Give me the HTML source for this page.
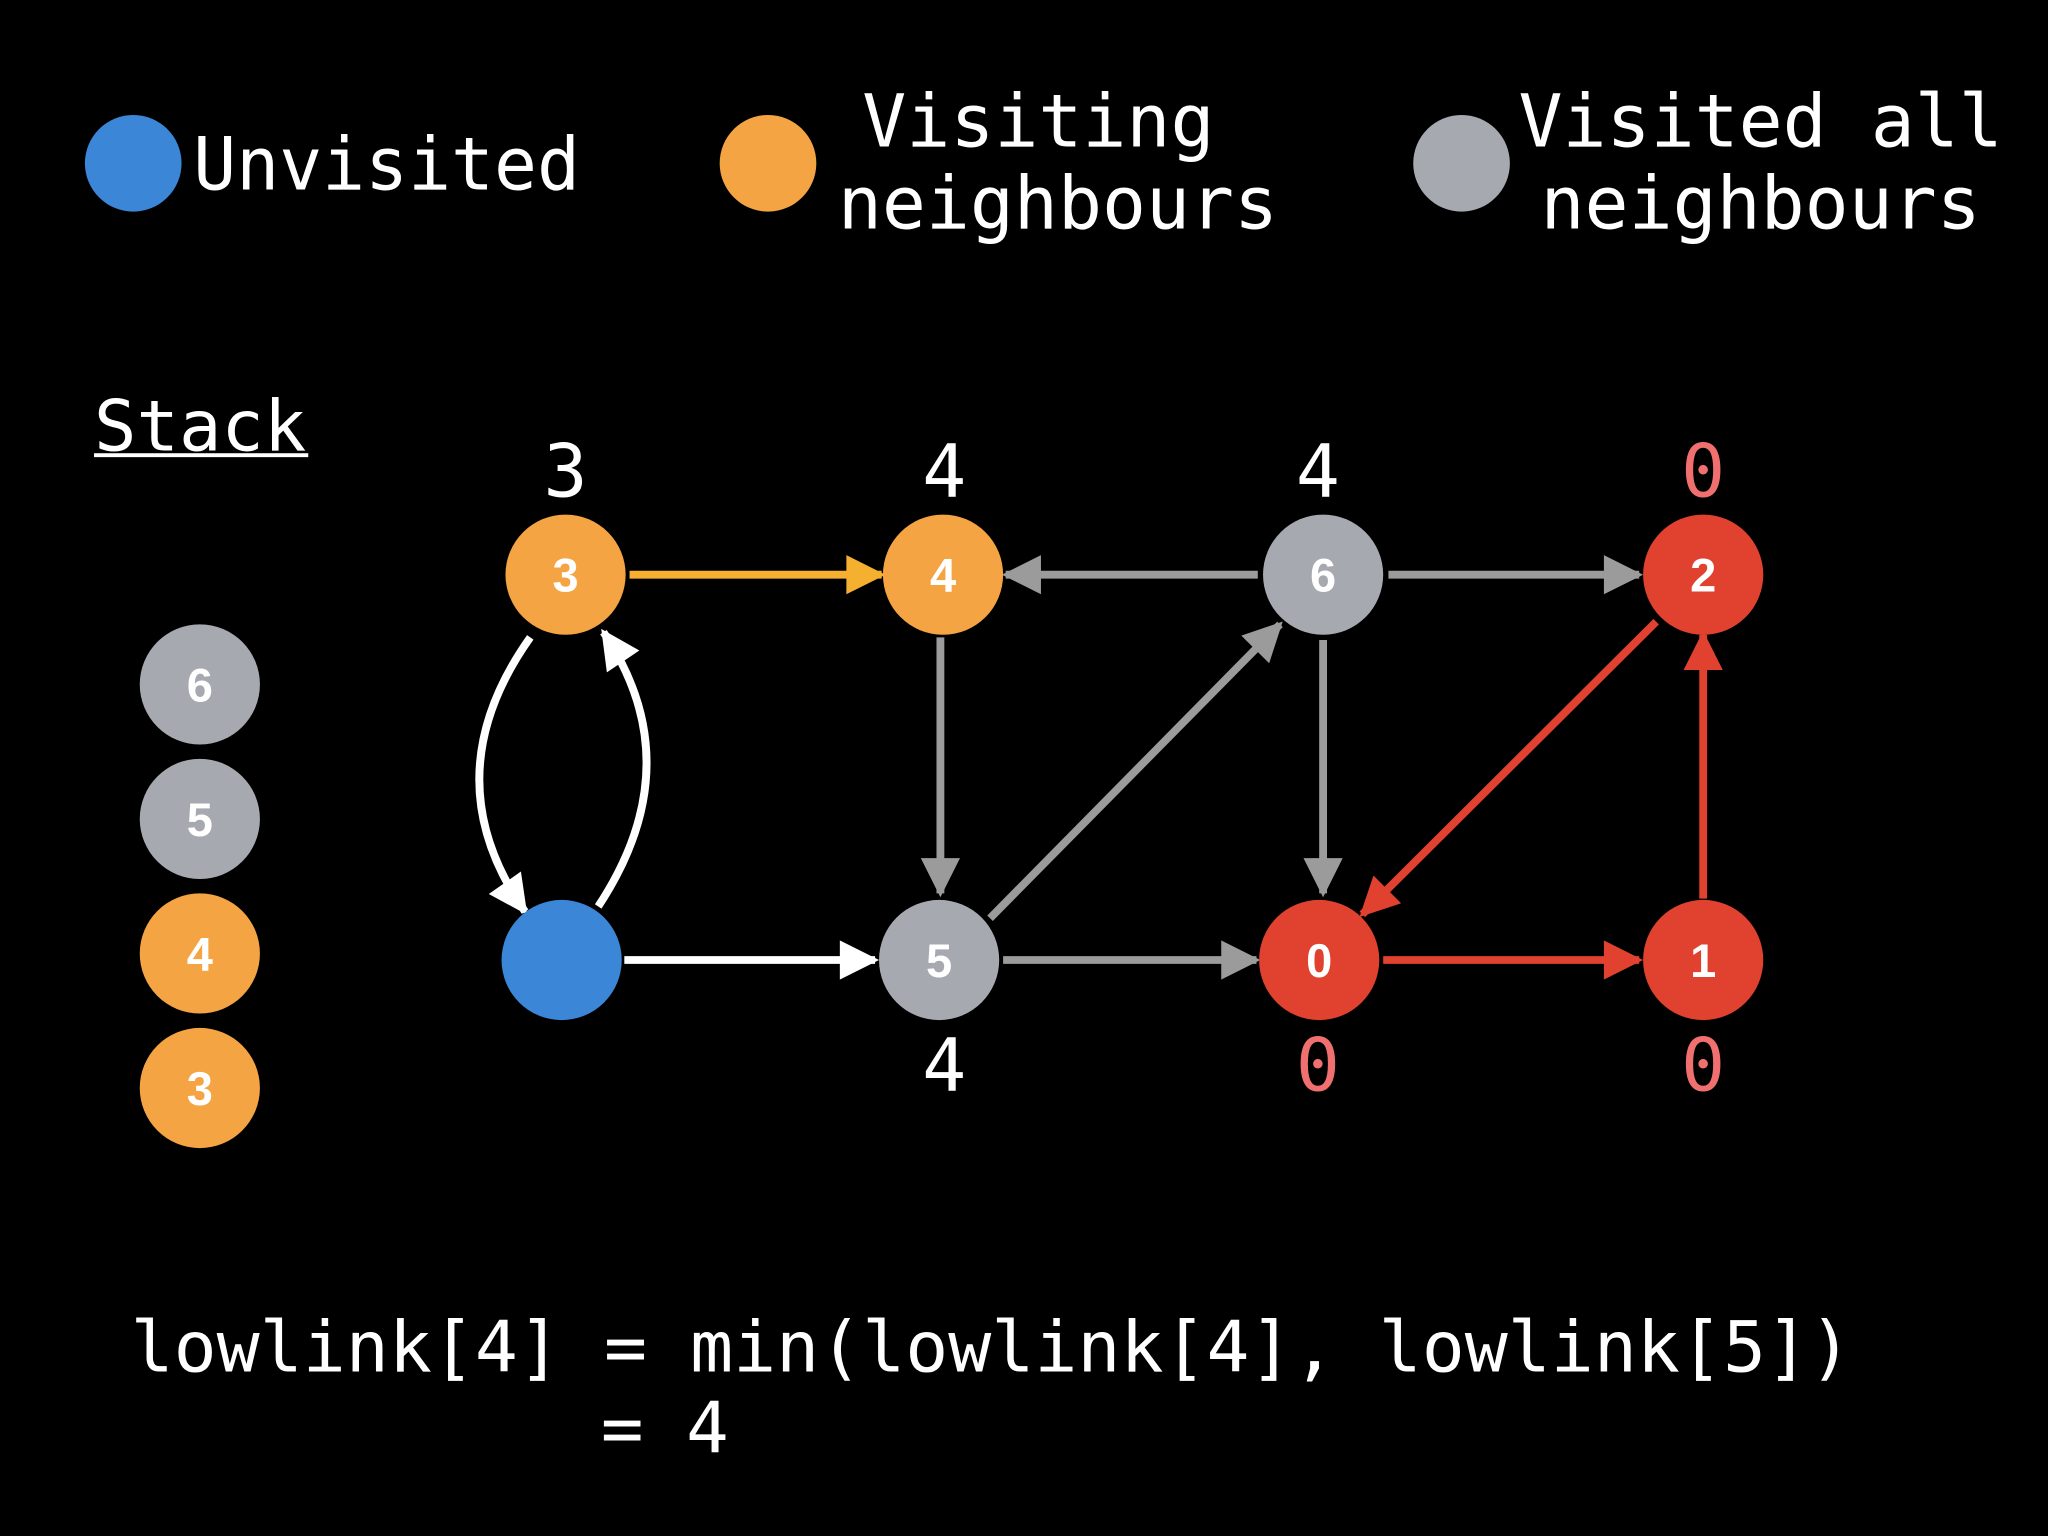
<!DOCTYPE html>
<html><head><meta charset="utf-8"><style>
html,body{margin:0;padding:0;background:#000;}
svg{display:block;}
.m{font-family:"DejaVu Sans Mono","Liberation Mono",monospace;fill:#fff;}
.n{font-family:"Liberation Sans",sans-serif;font-weight:bold;fill:#fff;font-size:36px;text-anchor:middle;}
</style></head><body>
<svg width="2048" height="1536" viewBox="0 0 1568 1176" xmlns="http://www.w3.org/2000/svg">
<defs>
<marker id="ag" viewBox="0 0 10 10" refX="9" refY="5" markerWidth="32" markerHeight="30" markerUnits="userSpaceOnUse" orient="auto"><path d="M0,0L10,5L0,10z" fill="#9b9b9b"/></marker>
<marker id="ao" viewBox="0 0 10 10" refX="9" refY="5" markerWidth="32" markerHeight="30" markerUnits="userSpaceOnUse" orient="auto"><path d="M0,0L10,5L0,10z" fill="#F5B030"/></marker>
<marker id="ar" viewBox="0 0 10 10" refX="9" refY="5" markerWidth="32" markerHeight="30" markerUnits="userSpaceOnUse" orient="auto"><path d="M0,0L10,5L0,10z" fill="#E0422F"/></marker>
<marker id="aw" viewBox="0 0 10 10" refX="9" refY="5" markerWidth="32" markerHeight="30" markerUnits="userSpaceOnUse" orient="auto"><path d="M0,0L10,5L0,10z" fill="#fff"/></marker>
</defs>
<rect width="1568" height="1176" fill="#000"/>
<circle cx="102" cy="125" r="37" fill="#3B86D6"/>
<text class="m" x="148" y="145" font-size="56" textLength="296" lengthAdjust="spacingAndGlyphs">Unvisited</text>
<circle cx="588" cy="125" r="37" fill="#F5A443"/>
<text class="m" x="795" y="112" font-size="56" text-anchor="middle">Visiting</text>
<text class="m" x="810" y="175" font-size="56" text-anchor="middle">neighbours</text>
<circle cx="1119" cy="125" r="37" fill="#A6A9B0"/>
<text class="m" x="1348" y="112" font-size="56" text-anchor="middle">Visited all</text>
<text class="m" x="1348" y="175" font-size="56" text-anchor="middle">neighbours</text>
<text class="m" x="72" y="345" font-size="54">Stack</text>
<rect x="72" y="347" width="164" height="3" fill="#fff"/>
<circle cx="153" cy="524" r="46" fill="#A6A9B0"/><text class="n" x="153" y="537">6</text>
<circle cx="153" cy="627" r="46" fill="#A6A9B0"/><text class="n" x="153" y="640">5</text>
<circle cx="153" cy="730" r="46" fill="#F5A443"/><text class="n" x="153" y="743">4</text>
<circle cx="153" cy="833" r="46" fill="#F5A443"/><text class="n" x="153" y="846">3</text>
<g stroke-width="6" fill="none">
<line x1="482" y1="440" x2="675" y2="440" stroke="#F5B030" marker-end="url(#ao)"/>
<line x1="963" y1="440" x2="770" y2="440" stroke="#9b9b9b" marker-end="url(#ag)"/>
<line x1="1063" y1="440" x2="1255" y2="440" stroke="#9b9b9b" marker-end="url(#ag)"/>
<line x1="720" y1="488" x2="720" y2="684" stroke="#9b9b9b" marker-end="url(#ag)"/>
<line x1="758" y1="703" x2="980" y2="478" stroke="#9b9b9b" marker-end="url(#ag)"/>
<line x1="1013" y1="490" x2="1013" y2="684" stroke="#9b9b9b" marker-end="url(#ag)"/>
<line x1="768" y1="735" x2="962" y2="735" stroke="#9b9b9b" marker-end="url(#ag)"/>
<line x1="1268" y1="476" x2="1043" y2="700" stroke="#E0422F" marker-end="url(#ar)"/>
<line x1="1059" y1="735" x2="1255" y2="735" stroke="#E0422F" marker-end="url(#ar)"/>
<line x1="1304" y1="688" x2="1304" y2="486" stroke="#E0422F" marker-end="url(#ar)"/>
<line x1="478" y1="735" x2="670" y2="735" stroke="#fff" marker-end="url(#aw)"/>
<path d="M406,488 Q330,595 402,698" stroke="#fff" marker-end="url(#aw)"/>
<path d="M458,694 Q530,585 462,484" stroke="#fff" marker-end="url(#aw)"/>
</g>
<circle cx="433" cy="440" r="46" fill="#F5A443"/><text class="n" x="433" y="453">3</text>
<circle cx="722" cy="440" r="46" fill="#F5A443"/><text class="n" x="722" y="453">4</text>
<circle cx="1013" cy="440" r="46" fill="#A6A9B0"/><text class="n" x="1013" y="453">6</text>
<circle cx="1304" cy="440" r="46" fill="#E0422F"/><text class="n" x="1304" y="453">2</text>
<circle cx="430" cy="735" r="46" fill="#3B86D6"/>
<circle cx="719" cy="735" r="46" fill="#A6A9B0"/><text class="n" x="719" y="748">5</text>
<circle cx="1010" cy="735" r="46" fill="#E0422F"/><text class="n" x="1010" y="748">0</text>
<circle cx="1304" cy="735" r="46" fill="#E0422F"/><text class="n" x="1304" y="748">1</text>
<g font-size="56" text-anchor="middle">
<text class="m" x="433" y="380">3</text>
<text class="m" x="723" y="380">4</text>
<text class="m" x="1009" y="380">4</text>
<text class="m" x="1304" y="380" style="fill:#F07070">0</text>
<text class="m" x="723" y="835">4</text>
<text class="m" x="1009" y="835" style="fill:#F07070">0</text>
<text class="m" x="1304" y="835" style="fill:#F07070">0</text>
</g>
<text class="m" x="100" y="1050" font-size="54" textLength="1318" lengthAdjust="spacingAndGlyphs">lowlink[4] = min(lowlink[4], lowlink[5])</text>
<text class="m" x="460" y="1112" font-size="54" textLength="98" lengthAdjust="spacingAndGlyphs">= 4</text>
</svg>
</body></html>
